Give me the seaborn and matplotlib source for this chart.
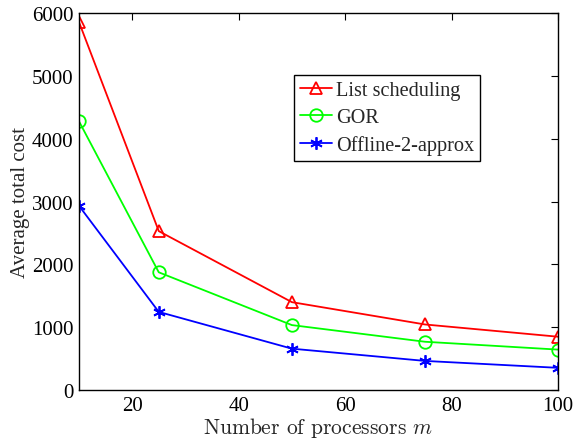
import matplotlib
matplotlib.use("Agg")
import matplotlib.pyplot as plt
import seaborn as sns
import pandas as pd

processors = [10, 25, 50, 75, 100]
list_sched = [5860, 2530, 1400, 1045, 850]
gor = [4280, 1875, 1035, 770, 645]
offline = [2935, 1245, 660, 465, 355]

series_names = ["List scheduling", "GOR", "Offline-2-approx"]
colors = ["#ff0000", "#00ff00", "#0000ff"]
markers = ["^", "o", (6, 2, 0)]

df = pd.concat([
    pd.DataFrame({"m": processors, "cost": vals, "series": name})
    for name, vals in zip(series_names, [list_sched, gor, offline])
])

sns.set_style("white")
plt.rcParams["font.family"] = ["Liberation Serif", "DejaVu Serif"]
plt.rcParams["mathtext.fontset"] = "cm"

fig = plt.figure(figsize=(5.76, 4.39), dpi=100)
ax = fig.add_axes([0.137, 0.109, 0.832, 0.859])

for name, c, mk in zip(series_names, colors, markers):
    sub = df[df["series"] == name]
    sns.lineplot(data=sub, x="m", y="cost", ax=ax, color=c, marker=mk,
                 markersize=9, markerfacecolor="none",
                 markeredgecolor=c, markeredgewidth=1.3,
                 linewidth=1.3, label=name)

ax.set_xlim(10, 100)
ax.set_ylim(0, 6000)
ax.set_xticks([20, 40, 60, 80, 100])
ax.set_yticks([0, 1000, 2000, 3000, 4000, 5000, 6000])
ax.tick_params(direction="in", top=True, right=True, labelsize=15, length=5,
               width=0.8, colors="black", pad=4)
for s in ax.spines.values():
    s.set_visible(True)
    s.set_color("black")
    s.set_linewidth(1.0)
ax.set_xlabel("Number of processors $m$", fontsize=15.5, labelpad=0,
              family=["cmr10", "DejaVu Serif"])
ax.set_ylabel("Average total cost", fontsize=15, labelpad=1)

leg = ax.legend(loc="upper left", bbox_to_anchor=(0.448, 0.836), fontsize=14.6,
                frameon=True, fancybox=False, edgecolor="black", framealpha=1,
                handlelength=1.6, handletextpad=0.2, borderpad=0.3, labelspacing=0.38,
                borderaxespad=0)
leg.get_frame().set_linewidth(1.0)

fig.savefig("out.png", dpi=100)
